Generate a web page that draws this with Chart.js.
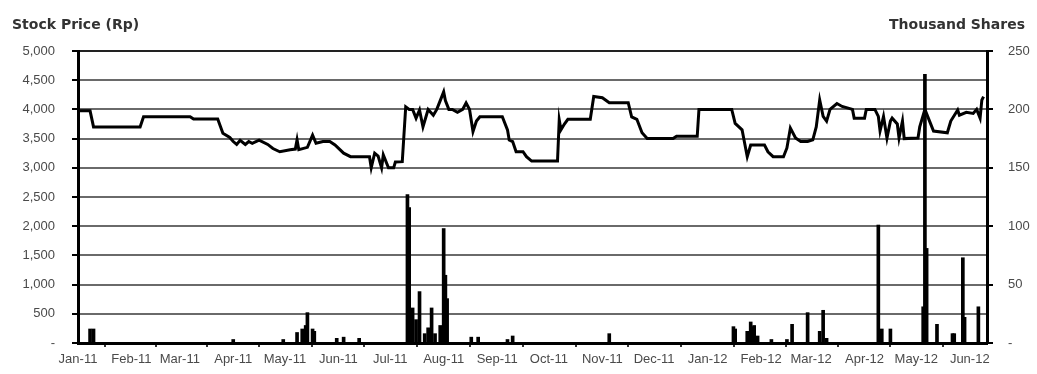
<!DOCTYPE html>
<html>
<head>
<meta charset="utf-8">
<title>Stock Price and Volume</title>
<script src="https://cdn.jsdelivr.net/npm/chart.js@4/dist/chart.umd.min.js"></script>
<style>
  html, body { margin: 0; padding: 0; background: #fff; }
  #wrap { width: 1037px; height: 374px; }
</style>
</head>
<body>
<div id="wrap"><canvas id="chartPrecio" width="1037" height="374"></canvas></div>
<script>
// ==============================
// Data (x = days since 1 Jan 2011)
// ==============================
const monthLabels = ['Jan-11','Feb-11','Mar-11','Apr-11','May-11','Jun-11','Jul-11','Aug-11','Sep-11',
                     'Oct-11','Nov-11','Dec-11','Jan-12','Feb-12','Mar-12','Apr-12','May-12','Jun-12'];
const monthStartDays = [0, 31, 59, 90, 120, 151, 181, 212, 243, 273, 304, 334, 365, 396, 425, 456, 486, 517];
const lastDay = 527;

// closing price, Rp
const priceDays = [0, 7, 9, 36, 38, 65, 67, 81, 84, 88, 90, 92, 94, 97, 99, 101, 105, 110, 113, 117,
  123, 126, 127, 128, 133, 136, 138, 142, 146, 149, 154, 158, 169, 170, 172, 174, 176, 177, 180, 183,
  184, 188, 190, 192, 194, 196, 198, 200, 202, 203, 206, 208, 210, 212, 213, 215, 217, 220, 223, 225,
  227, 229, 231, 233, 246, 249, 250, 252, 254, 258, 260, 263, 278, 279, 280, 282, 284, 297, 299, 304,
  308, 319, 321, 324, 327, 330, 345, 347, 359, 360, 379, 381, 385, 388, 390, 398, 400, 403, 409, 411,
  413, 416, 419, 423, 426, 428, 430, 432, 434, 436, 440, 443, 449, 450, 456, 457, 462, 464, 465, 467,
  469, 471, 472, 475, 476, 478, 479, 487, 488, 491, 493, 496, 504, 506, 510, 511, 515, 519, 521, 523,
  524, 525];
const priceValues = [3975, 3975, 3700, 3700, 3875, 3875, 3835, 3835, 3590, 3520, 3450, 3400, 3470, 3400, 3450, 3420, 3475, 3400, 3330, 3275,
  3310, 3320, 3480, 3310, 3350, 3560, 3420, 3450, 3450, 3390, 3250, 3190, 3190, 3000, 3250, 3200, 3000, 3220, 3000, 3000,
  3100, 3105, 4045, 4000, 4000, 3850, 3990, 3700, 3900, 4000, 3900, 4000, 4150, 4300, 4150, 4000, 4000, 3950, 4000, 4110,
  4000, 3620, 3800, 3875, 3875, 3650, 3475, 3450, 3275, 3275, 3190, 3115, 3115, 3820, 3650, 3750, 3830, 3830, 4220, 4200,
  4115, 4115, 3870, 3830, 3600, 3500, 3500, 3540, 3540, 4000, 4000, 3760, 3650, 3190, 3390, 3390, 3275, 3190, 3190, 3340,
  3680, 3510, 3450, 3450, 3480, 3700, 4160, 3880, 3800, 4000, 4100, 4050, 4000, 3850, 3850, 4000, 4000, 3880, 3630, 3880,
  3510, 3800, 3850, 3750, 3510, 3800, 3500, 3510, 3700, 4000, 3850, 3630, 3600, 3800, 3990, 3900, 3950, 3930, 4000, 3850,
  4160, 4220];

// trading volume, thousand shares
const volumeDays = [7, 9, 90, 119, 127, 130, 132, 133, 136, 137, 150, 154, 163, 191, 192, 194, 196, 198,
  201, 203, 205, 207, 210, 212, 213, 214, 228, 232, 249, 252, 308, 380, 381, 388, 390, 391, 392, 394,
  402, 411, 414, 423, 430, 432, 434, 464, 466, 471, 490, 491, 492, 498, 507, 508, 513, 514, 522];
const volumeValues = [12, 12, 3, 3, 9, 12, 15, 26, 12, 10, 4, 5, 4, 127, 116, 30, 20, 44,
  8, 13, 30, 8, 15, 98, 58, 38, 5, 5, 3, 6, 8, 14, 12, 10, 18, 14, 15, 6,
  3, 3, 16, 26, 10, 28, 4, 101, 12, 12, 31, 230, 81, 16, 8, 8, 73, 22, 31];

const priceTicks = [0, 500, 1000, 1500, 2000, 2500, 3000, 3500, 4000, 4500, 5000];
const volumeTicks = [0, 50, 100, 150, 200, 250];

// ==============================
// Helpers
// ==============================
const fmtMiles = (v) => v === 0 ? '-' : v.toLocaleString('en-US');
const toPoints = (xs, ys) => xs.map((x, i) => ({ x, y: ys[i] }));

// axis captions sit above the plot, outside the scales
const captions = {
  id: 'captions',
  afterDraw(chart) {
    const ctx = chart.ctx;
    ctx.save();
    ctx.font = 'bold 14px "DejaVu Sans", sans-serif';
    ctx.fillStyle = '#333';
    ctx.textBaseline = 'middle';
    ctx.textAlign = 'left';
    ctx.fillText('Stock Price (Rp)', 12, 25);
    ctx.textAlign = 'right';
    ctx.fillText('Thousand Shares', 1025, 25);
    ctx.restore();
  }
};

// ==============================
// Chart
// ==============================
const tickFont = { family: '"Liberation Sans", Arial, sans-serif', size: 13 };
const labelGray = '#4a4a4a';

new Chart(document.getElementById('chartPrecio').getContext('2d'), {
  type: 'bar',
  data: {
    datasets: [
      {
        type: 'line',
        label: 'Price',
        data: toPoints(priceDays, priceValues),
        yAxisID: 'yPrice',
        borderColor: '#000',
        borderWidth: 3,
        pointRadius: 0,
        tension: 0,
        order: 0
      },
      {
        type: 'bar',
        label: 'Volume',
        data: toPoints(volumeDays, volumeValues),
        yAxisID: 'yVol',
        backgroundColor: '#000',
        barThickness: 3,
        grouped: false,
        order: 1
      }
    ]
  },
  options: {
    responsive: false,
    animation: false,
    events: [],
    layout: { padding: { top: 51, left: 0, right: 0, bottom: 0 } },
    plugins: { legend: { display: false }, tooltip: { enabled: false } },
    scales: {
      x: {
        type: 'linear',
        min: 0,
        max: lastDay,
        offset: false,
        afterBuildTicks: (scale) => { scale.ticks = monthStartDays.map(v => ({ value: v })); },
        afterFit: (scale) => { scale.height = 31; },
        ticks: {
          autoSkip: false,
          maxRotation: 0,
          padding: 5,
          color: labelGray,
          font: tickFont,
          callback: (v, i) => monthLabels[i]
        },
        grid: { drawOnChartArea: false, drawTicks: true, tickLength: 4, tickColor: '#333', lineWidth: 2 },
        border: { color: '#000', width: 3 }
      },
      yPrice: {
        position: 'left',
        min: 0,
        max: 5000,
        afterBuildTicks: (scale) => { scale.ticks = priceTicks.map(v => ({ value: v })); },
        afterFit: (scale) => { scale.width = 78; },
        ticks: { padding: 17, color: labelGray, font: tickFont, callback: (v) => fmtMiles(v) },
        grid: {
          color: (c) => c.tick && c.tick.value === 5000 ? '#222' : '#6a6a6a',
          lineWidth: 2,
          drawTicks: true,
          tickLength: 6,
          tickColor: '#000'
        },
        border: { color: '#000', width: 3 }
      },
      yVol: {
        position: 'right',
        min: 0,
        max: 250,
        afterBuildTicks: (scale) => { scale.ticks = volumeTicks.map(v => ({ value: v })); },
        afterFit: (scale) => { scale.width = 50; },
        ticks: { padding: 15, color: labelGray, font: tickFont, callback: (v) => v === 0 ? '-' : String(v) },
        grid: { drawOnChartArea: false, drawTicks: true, tickLength: 6, tickColor: '#000', lineWidth: 2 },
        border: { color: '#000', width: 3 }
      }
    }
  },
  plugins: [captions]
});
</script>
</body>
</html>
